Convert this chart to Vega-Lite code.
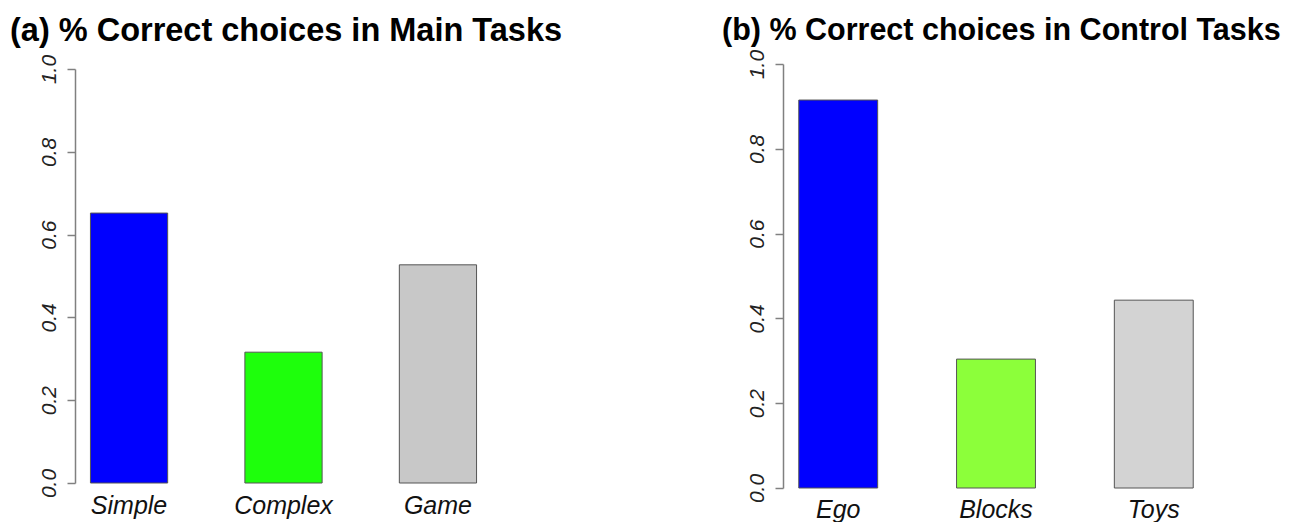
{
  "$schema": "https://vega.github.io/schema/vega-lite/v6.json",
  "padding": {"left": 10, "top": 14, "right": 0, "bottom": 0},
  "autosize": {"type": "pad"},
  "spacing": 159,
  "background": "white",
  "config": {"view": {"stroke": null}, "font": "Liberation Sans"},
  "resolve": {"scale": {"color": "independent", "x": "independent", "y": "independent"}},
  "hconcat": [
    {
      "title": {"text": "(a) % Correct choices in Main Tasks", "anchor": "start", "frame": "group", "dx": -65, "dy": -4, "fontSize": 32.5, "font": "Liberation Sans", "fontWeight": "bold", "color": "#000000", "baseline": "alphabetic", "offset": -23},
      "width": 417,
      "height": 424,
      "data": {"values": [
        {"task": "Simple", "value": 0.652},
        {"task": "Complex", "value": 0.316},
        {"task": "Game", "value": 0.527}
      ]},
      "mark": {"type": "bar", "stroke": "#555555", "strokeWidth": 1},
      "encoding": {
        "x": {"field": "task", "type": "nominal", "sort": null,
          "scale": {"paddingInner": 0.5, "paddingOuter": 0.1},
          "axis": {"title": null, "labelAngle": 0, "domain": false, "ticks": false, "labelFontSize": 25, "labelFontStyle": "italic", "labelPadding": 5, "labelColor": "#111111", "labelFont": "Liberation Sans"}},
        "y": {"field": "value", "type": "quantitative",
          "scale": {"domain": [0, 1], "range": [419, 5]},
          "axis": {"title": null, "values": [0, 0.2, 0.4, 0.6, 0.8, 1], "format": ".1f", "labelAngle": -90, "labelAlign": "center", "labelBaseline": "alphabetic", "labelFontSize": 21, "labelFontStyle": "italic", "labelFont": "Liberation Sans", "labelColor": "#222222", "labelPadding": 12, "labelFlush": false, "labelOverlap": false, "tickSize": 8, "tickColor": "#808080", "tickWidth": 1.5, "domainColor": "#808080", "domainWidth": 1.5, "grid": false}},
        "color": {"field": "task", "type": "nominal",
          "scale": {"domain": ["Simple", "Complex", "Game"], "range": ["#0000ff", "#1eff0c", "#c8c8c8"]},
          "legend": null}
      }
    },
    {
      "title": {"text": "(b) % Correct choices in Control Tasks", "anchor": "start", "frame": "group", "dx": -61, "dy": -2, "fontSize": 30.5, "font": "Liberation Sans", "fontWeight": "bold", "color": "#000000", "baseline": "alphabetic", "offset": -23},
      "width": 426,
      "height": 424,
      "data": {"values": [
        {"task": "Ego", "value": 0.915},
        {"task": "Blocks", "value": 0.304},
        {"task": "Toys", "value": 0.443}
      ]},
      "mark": {"type": "bar", "stroke": "#555555", "strokeWidth": 1},
      "encoding": {
        "x": {"field": "task", "type": "nominal", "sort": null,
          "scale": {"paddingInner": 0.5, "paddingOuter": 0.1},
          "axis": {"title": null, "labelAngle": 0, "domain": false, "ticks": false, "labelFontSize": 25, "labelFontStyle": "italic", "labelPadding": 9, "labelColor": "#111111", "labelFont": "Liberation Sans"}},
        "y": {"field": "value", "type": "quantitative",
          "scale": {"domain": [0, 1]},
          "axis": {"title": null, "values": [0, 0.2, 0.4, 0.6, 0.8, 1], "format": ".1f", "labelAngle": -90, "labelAlign": "center", "labelBaseline": "alphabetic", "labelFontSize": 21, "labelFontStyle": "italic", "labelFont": "Liberation Sans", "labelColor": "#222222", "labelPadding": 12, "labelFlush": false, "labelOverlap": false, "tickSize": 8, "tickColor": "#808080", "tickWidth": 1.5, "domainColor": "#808080", "domainWidth": 1.5, "grid": false}},
        "color": {"field": "task", "type": "nominal",
          "scale": {"domain": ["Ego", "Blocks", "Toys"], "range": ["#0000ff", "#8cff3a", "#d3d3d3"]},
          "legend": null}
      }
    }
  ]
}
